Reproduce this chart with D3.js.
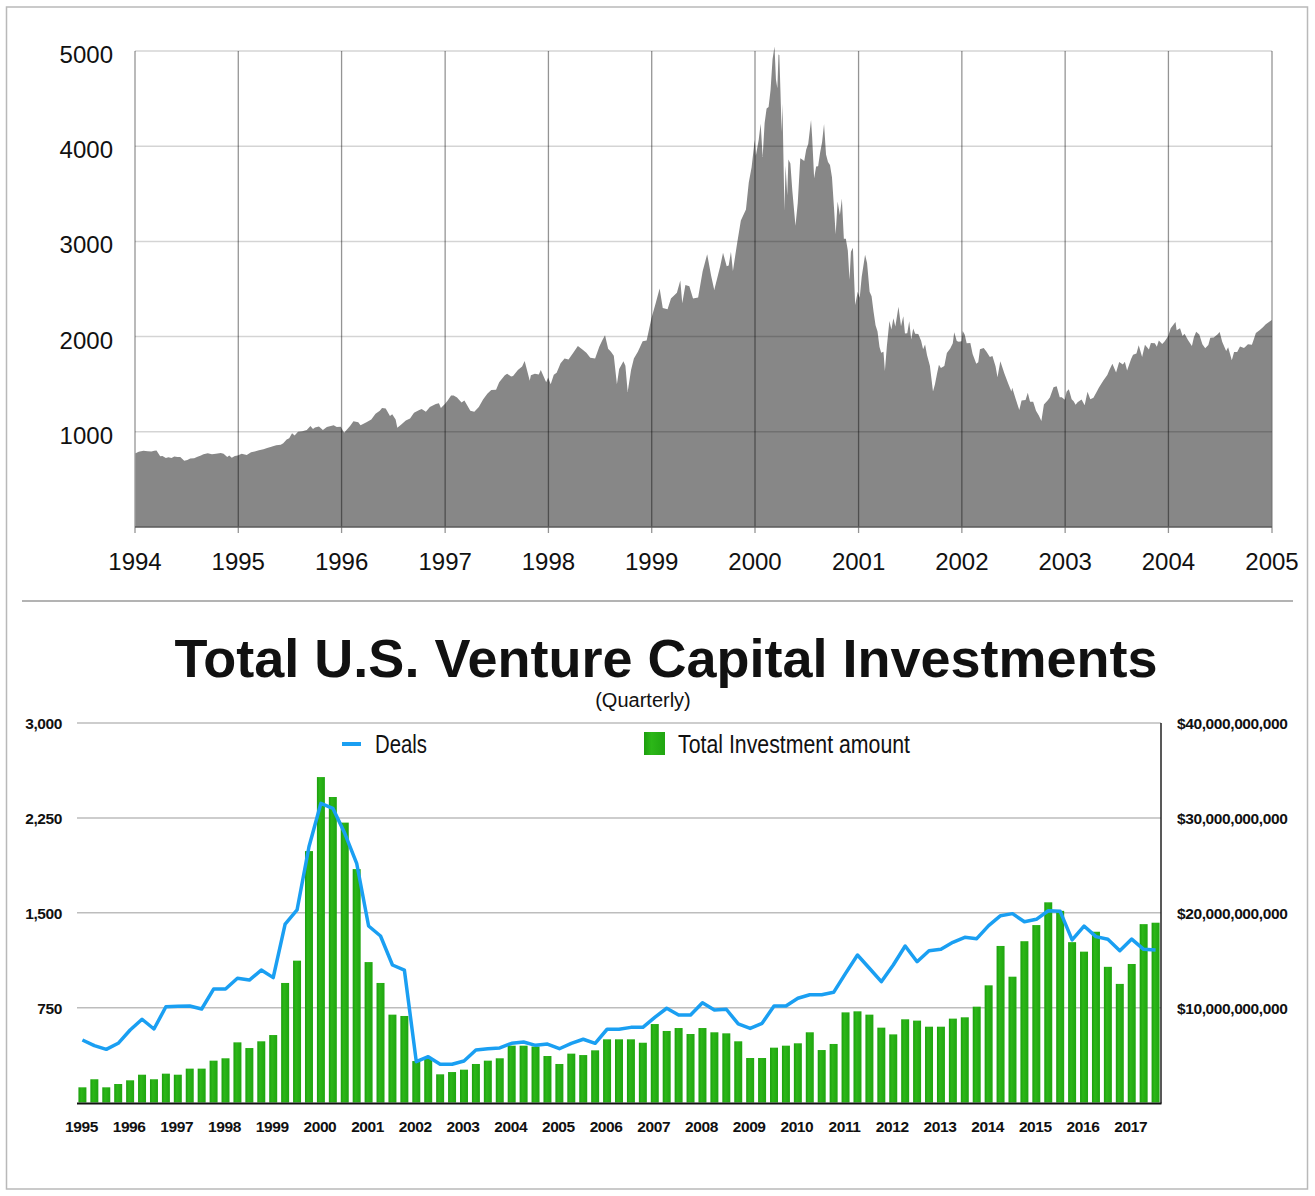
<!DOCTYPE html>
<html>
<head>
<meta charset="utf-8">
<script src="https://cdn.jsdelivr.net/npm/d3@7"></script>
<style>
  body { margin: 0; background: #fff; }
  svg { display: block; }
  text { font-family: "Liberation Sans", Arial, Helvetica, sans-serif; fill: #111; }
</style>
</head>
<body>
<div id="chart"></div>
<script>
// ---------------- data ----------------
// NASDAQ composite (date, close)
var nasdaqClose = [
  ["1994-01-03",776],["1994-01-14",790],["1994-01-31",800],["1994-02-15",795],["1994-02-28",792],
  ["1994-03-10",800],["1994-03-18",803],["1994-03-31",743],["1994-04-08",745],["1994-04-20",725],
  ["1994-04-29",733],["1994-05-10",726],["1994-05-20",740],["1994-05-31",735],["1994-06-10",735],
  ["1994-06-24",697],["1994-07-05",705],["1994-07-15",720],["1994-07-29",722],["1994-08-10",738],
  ["1994-08-22",750],["1994-08-31",765],["1994-09-15",775],["1994-09-30",764],["1994-10-14",770],
  ["1994-10-31",777],["1994-11-10",770],["1994-11-23",735],["1994-11-30",750],["1994-12-09",728],
  ["1994-12-20",745],["1994-12-30",752],
  ["1995-01-13",770],["1995-01-31",755],["1995-02-15",785],["1995-02-28",794],["1995-03-15",805],
  ["1995-03-31",817],["1995-04-13",830],["1995-04-28",844],["1995-05-15",860],["1995-05-31",865],
  ["1995-06-09",880],["1995-06-21",920],["1995-06-30",933],["1995-07-10",985],["1995-07-19",960],
  ["1995-07-31",1001],["1995-08-15",1005],["1995-08-31",1020],["1995-09-13",1060],["1995-09-22",1030],
  ["1995-09-29",1044],["1995-10-13",1055],["1995-10-27",1020],["1995-11-10",1050],["1995-11-24",1060],
  ["1995-12-04",1068],["1995-12-15",1050],["1995-12-29",1052],
  ["1996-01-10",990],["1996-01-31",1060],["1996-02-12",1110],["1996-02-29",1100],["1996-03-08",1070],
  ["1996-03-29",1101],["1996-04-15",1130],["1996-04-30",1190],["1996-05-15",1220],["1996-05-23",1250],
  ["1996-06-05",1245],["1996-06-20",1165],["1996-06-28",1185],["1996-07-10",1130],["1996-07-16",1042],
  ["1996-07-31",1080],["1996-08-15",1120],["1996-08-30",1141],["1996-09-13",1200],["1996-09-30",1227],
  ["1996-10-10",1240],["1996-10-25",1210],["1996-11-08",1260],["1996-11-29",1293],["1996-12-10",1300],
  ["1996-12-17",1250],["1996-12-31",1291],
  ["1997-01-10",1330],["1997-01-22",1380],["1997-01-31",1380],["1997-02-12",1360],["1997-02-28",1309],
  ["1997-03-10",1330],["1997-03-31",1222],["1997-04-14",1210],["1997-04-30",1261],["1997-05-15",1340],
  ["1997-05-30",1400],["1997-06-13",1440],["1997-06-30",1442],["1997-07-11",1520],["1997-07-31",1594],
  ["1997-08-08",1610],["1997-08-22",1580],["1997-08-29",1587],["1997-09-15",1650],["1997-09-30",1686],
  ["1997-10-09",1745],["1997-10-27",1535],["1997-10-31",1594],["1997-11-14",1610],["1997-11-28",1601],
  ["1997-12-05",1650],["1997-12-24",1520],["1997-12-31",1570],
  ["1998-01-09",1500],["1998-01-20",1600],["1998-01-30",1619],["1998-02-13",1720],["1998-02-27",1771],
  ["1998-03-13",1760],["1998-03-31",1836],["1998-04-15",1900],["1998-04-30",1868],["1998-05-15",1830],
  ["1998-05-29",1779],["1998-06-15",1770],["1998-06-30",1895],["1998-07-10",1960],["1998-07-20",2014],
  ["1998-07-31",1872],["1998-08-10",1840],["1998-08-20",1800],["1998-08-31",1499],["1998-09-08",1660],
  ["1998-09-23",1740],["1998-09-30",1695],["1998-10-08",1419],["1998-10-20",1650],["1998-10-30",1771],
  ["1998-11-13",1840],["1998-11-30",1950],["1998-12-14",1960],["1998-12-31",2193],
  ["1999-01-15",2350],["1999-01-29",2506],["1999-02-09",2300],["1999-02-26",2288],["1999-03-10",2400],
  ["1999-03-31",2461],["1999-04-12",2590],["1999-04-19",2350],["1999-04-30",2543],["1999-05-14",2530],
  ["1999-05-27",2400],["1999-06-14",2410],["1999-06-30",2686],["1999-07-16",2864],["1999-07-30",2638],
  ["1999-08-10",2490],["1999-08-31",2739],["1999-09-10",2880],["1999-09-23",2740],["1999-09-30",2746],
  ["1999-10-08",2890],["1999-10-15",2690],["1999-10-29",2966],["1999-11-12",3220],["1999-11-30",3336],
  ["1999-12-10",3620],["1999-12-20",3780],["1999-12-31",4069],
  ["2000-01-04",3900],["2000-01-14",4065],["2000-01-21",4235],["2000-01-28",3887],["2000-02-04",4244],
  ["2000-02-11",4395],["2000-02-18",4411],["2000-02-25",4590],["2000-03-03",4914],["2000-03-10",5048],
  ["2000-03-15",4700],["2000-03-20",4610],["2000-03-24",4963],["2000-03-27",4958],["2000-03-31",4573],
  ["2000-04-04",4148],["2000-04-07",4446],["2000-04-14",3321],["2000-04-18",3794],["2000-04-24",3482],
  ["2000-04-28",3861],["2000-05-05",3817],["2000-05-12",3529],["2000-05-23",3164],["2000-05-31",3401],
  ["2000-06-09",3874],["2000-06-16",3860],["2000-06-23",3845],["2000-06-30",3966],["2000-07-07",4023],
  ["2000-07-17",4274],["2000-07-21",4095],["2000-07-28",3663],["2000-08-04",3787],["2000-08-11",3789],
  ["2000-08-18",3930],["2000-08-25",4042],["2000-09-01",4234],["2000-09-08",3913],["2000-09-15",3835],
  ["2000-09-22",3803],["2000-09-29",3673],["2000-10-06",3361],["2000-10-12",3074],["2000-10-19",3418],
  ["2000-10-27",3278],["2000-11-03",3451],["2000-11-10",3028],["2000-11-17",3028],["2000-11-24",2904],
  ["2000-11-30",2598],["2000-12-05",2890],["2000-12-12",2932],["2000-12-20",2333],["2000-12-29",2471],
  ["2001-01-05",2407],["2001-01-12",2626],["2001-01-24",2859],["2001-01-31",2773],["2001-02-09",2470],
  ["2001-02-16",2425],["2001-02-23",2262],["2001-03-02",2118],["2001-03-09",2053],["2001-03-16",1890],
  ["2001-03-22",1830],["2001-03-30",1840],["2001-04-04",1638],["2001-04-11",1900],["2001-04-20",2163],
  ["2001-04-27",2075],["2001-05-04",2192],["2001-05-11",2107],["2001-05-22",2313],["2001-05-31",2110],
  ["2001-06-08",2215],["2001-06-14",2032],["2001-06-22",2034],["2001-06-29",2161],["2001-07-06",1970],
  ["2001-07-13",2085],["2001-07-20",2029],["2001-07-31",2027],["2001-08-10",1957],["2001-08-17",1868],
  ["2001-08-24",1916],["2001-08-31",1805],["2001-09-10",1695],["2001-09-21",1423],["2001-09-28",1499],
  ["2001-10-05",1606],["2001-10-12",1703],["2001-10-19",1671],["2001-10-31",1690],["2001-11-09",1828],
  ["2001-11-21",1875],["2001-11-30",1931],["2001-12-05",2046],["2001-12-14",1953],["2001-12-21",1945],
  ["2001-12-31",1950],
  ["2002-01-04",2059],["2002-01-11",2022],["2002-01-18",1930],["2002-01-31",1934],["2002-02-08",1818],
  ["2002-02-21",1716],["2002-02-28",1731],["2002-03-06",1866],["2002-03-19",1880],["2002-03-28",1845],
  ["2002-04-10",1785],["2002-04-19",1796],["2002-04-30",1688],["2002-05-07",1574],["2002-05-17",1741],
  ["2002-05-31",1616],["2002-06-14",1505],["2002-06-25",1423],["2002-06-28",1463],["2002-07-10",1346],
  ["2002-07-23",1229],["2002-07-31",1328],["2002-08-14",1335],["2002-08-22",1409],["2002-08-30",1315],
  ["2002-09-10",1316],["2002-09-20",1221],["2002-09-30",1172],["2002-10-09",1114],["2002-10-18",1288],
  ["2002-10-31",1330],["2002-11-08",1360],["2002-11-21",1468],["2002-12-02",1478],["2002-12-13",1362],
  ["2002-12-20",1363],["2002-12-31",1336],
  ["2003-01-06",1421],["2003-01-14",1446],["2003-01-24",1342],["2003-01-31",1321],["2003-02-07",1283],
  ["2003-02-14",1310],["2003-02-28",1338],["2003-03-11",1279],["2003-03-21",1422],["2003-03-31",1341],
  ["2003-04-11",1358],["2003-04-25",1434],["2003-04-30",1464],["2003-05-16",1538],["2003-05-30",1596],
  ["2003-06-06",1647],["2003-06-17",1716],["2003-06-30",1623],["2003-07-11",1734],["2003-07-24",1708],
  ["2003-07-31",1735],["2003-08-08",1644],["2003-08-22",1765],["2003-08-29",1810],["2003-09-10",1823],
  ["2003-09-18",1909],["2003-09-30",1787],["2003-10-10",1915],["2003-10-24",1865],["2003-10-31",1932],
  ["2003-11-14",1930],["2003-11-21",1893],["2003-11-28",1960],["2003-12-10",1922],["2003-12-19",1951],
  ["2003-12-31",2003],
  ["2004-01-09",2087],["2004-01-26",2154],["2004-01-30",2066],["2004-02-11",2089],["2004-02-20",2006],
  ["2004-02-27",2030],["2004-03-10",1965],["2004-03-24",1902],["2004-03-31",1994],["2004-04-08",2052],
  ["2004-04-19",2022],["2004-04-30",1920],["2004-05-10",1877],["2004-05-21",1912],["2004-05-28",1987],
  ["2004-06-09",1990],["2004-06-23",2025],["2004-06-30",2048],["2004-07-09",1946],["2004-07-23",1850],
  ["2004-07-30",1887],["2004-08-12",1752],["2004-08-20",1838],["2004-08-31",1838],["2004-09-10",1895],
  ["2004-09-24",1880],["2004-09-30",1897],["2004-10-08",1919],["2004-10-22",1915],["2004-10-29",1975],
  ["2004-11-05",2038],["2004-11-19",2070],["2004-11-30",2097],["2004-12-10",2129],["2004-12-20",2150],
  ["2004-12-31",2175]
];
var nasdaqYears = [1994,1995,1996,1997,1998,1999,2000,2001,2002,2003,2004,2005];
var nasdaqTicks = [1000,2000,3000,4000,5000];

// Venture capital, quarterly 1995 Q1 .. 2017 Q3
var vcYears = [1995,1996,1997,1998,1999,2000,2001,2002,2003,2004,2005,2006,
               2007,2008,2009,2010,2011,2012,2013,2014,2015,2016,2017];
// total investment amount, billions of dollars
var investmentB = [
  1.6, 2.45, 1.6, 1.95,   2.34, 2.93, 2.45, 3.04,   2.93, 3.57, 3.57, 4.41,
  4.66, 6.34, 5.74, 6.45, 7.11, 12.6, 14.95, 26.5,  34.3, 32.2, 29.5, 24.6,
  14.8, 12.6, 9.26, 9.12, 4.37, 4.62, 2.97, 3.21,   3.46, 4.06, 4.41, 4.66,
  5.99, 5.99, 5.9, 4.9,   4.06, 5.15, 5.0, 5.5,     6.66, 6.66, 6.66, 6.3,
  8.27, 7.54, 7.85, 7.22, 7.85, 7.4, 7.29, 6.45,    4.69, 4.69, 5.78, 5.99,
  6.24, 7.4, 5.53, 6.17,  9.5, 9.61, 9.26, 7.89,    7.18, 8.77, 8.63, 7.99,
  7.99, 8.84, 8.98, 10.1, 12.35, 16.5, 13.26, 17.0, 18.7, 21.1, 20.2, 16.9,
  15.9, 18.0, 14.3, 12.5, 14.6, 18.8, 18.95
];
// number of deals
var deals = [
  494, 449, 420, 468,    573, 658, 581, 757,    760, 763, 739, 897,
  897, 982, 968, 1047,   987, 1411, 1522, 2022, 2365, 2326, 2128, 1891,
  1395, 1316, 1087, 1047, 323, 362, 302, 302,   328, 415, 425, 431,
  468, 478, 452, 462,    425, 468, 500, 468,    579, 579, 594, 594,
  673, 745, 692, 692,    789, 731, 737, 621,    586, 626, 763, 763,
  824, 852, 852, 871,    1021, 1166, 1061, 955, 1087, 1237, 1113, 1200,
  1211, 1266, 1306, 1295, 1398, 1477, 1493, 1429, 1448, 1516, 1511, 1285,
  1395, 1311, 1290, 1200, 1292, 1211, 1205
];
var dealTicks = [750, 1500, 2250, 3000];
var dollarTicks = [10, 20, 30, 40];

// ---------------- page ----------------
var W = 1315, H = 1196;
var svg = d3.select("#chart").append("svg")
  .attr("width", W).attr("height", H);

// outer frame
svg.append("rect")
  .attr("x", 6.5).attr("y", 7).attr("width", 1301).attr("height", 1182)
  .attr("fill", "none").attr("stroke", "#b9b9b9").attr("stroke-width", 1.5);

// separator between panels
svg.append("line")
  .attr("x1", 22).attr("x2", 1293).attr("y1", 601).attr("y2", 601)
  .attr("stroke", "#9a9a9a").attr("stroke-width", 1.5);

//--------------------------top panel: NASDAQ area-----------------------------
var parseDate = d3.timeParse("%Y-%m-%d");
var nasdaq = nasdaqClose.map(function(d) { return {date: parseDate(d[0]), value: d[1]}; });

var xN = d3.scaleTime()
  .domain([new Date(1994, 0, 1), new Date(2005, 0, 1)])
  .range([135, 1272]);
var yN = d3.scaleLinear().domain([0, 5000]).range([527, 51]);

var topPanel = svg.append("g").attr("class", "nasdaq");

var area = d3.area()
  .x(function(d) { return xN(d.date); })
  .y0(yN(0))
  .y1(function(d) { return yN(d.value); });

topPanel.append("path")
  .datum(nasdaq)
  .attr("d", area)
  .attr("fill", "#878787");

// horizontal grid (drawn over the area)
topPanel.selectAll(".hgrid")
  .data(nasdaqTicks)
  .enter().append("line")
  .attr("class", "hgrid")
  .attr("x1", xN.range()[0]).attr("x2", xN.range()[1])
  .attr("y1", function(d) { return yN(d); })
  .attr("y2", function(d) { return yN(d); })
  .attr("stroke", "#000").attr("stroke-opacity", 0.17).attr("stroke-width", 1.5);

// vertical year lines
topPanel.selectAll(".vgrid")
  .data(nasdaqYears)
  .enter().append("line")
  .attr("class", "vgrid")
  .attr("x1", function(d) { return xN(new Date(d, 0, 1)); })
  .attr("x2", function(d) { return xN(new Date(d, 0, 1)); })
  .attr("y1", yN(5000)).attr("y2", yN(0) + 6)
  .attr("stroke", "#000").attr("stroke-opacity", 0.42).attr("stroke-width", 1.3);

// baseline
topPanel.append("line")
  .attr("x1", xN.range()[0]).attr("x2", xN.range()[1])
  .attr("y1", yN(0)).attr("y2", yN(0))
  .attr("stroke", "#5a5a5a").attr("stroke-width", 1.5);

topPanel.selectAll(".ylab")
  .data(nasdaqTicks)
  .enter().append("text")
  .attr("x", 113)
  .attr("y", function(d) { return yN(d) + 12; })
  .attr("text-anchor", "end")
  .style("font-size", "24px")
  .text(function(d) { return d; });

topPanel.selectAll(".xlab")
  .data(nasdaqYears)
  .enter().append("text")
  .attr("x", function(d) { return xN(new Date(d, 0, 1)); })
  .attr("y", 569.5)
  .attr("text-anchor", "middle")
  .style("font-size", "24px")
  .text(function(d) { return d; });

//--------------------------bottom panel: venture capital-----------------------------
var quarterKeys = [];
vcYears.forEach(function(y) {
  [1, 2, 3, 4].forEach(function(q) { quarterKeys.push(y + "Q" + q); });
});
quarterKeys = quarterKeys.slice(0, investmentB.length);

var vc = quarterKeys.map(function(k, i) {
  return {key: k, amount: investmentB[i], deals: deals[i]};
});

var xV = d3.scaleBand()
  .domain(quarterKeys)
  .range([77, 1161])
  .paddingInner(0.33)
  .paddingOuter(0.12);
var yDeals = d3.scaleLinear().domain([0, 3000]).range([1102.5, 723]);
var yMoney = d3.scaleLinear().domain([0, 40]).range([1102.5, 723]);

var bottomPanel = svg.append("g").attr("class", "vc");

// title
bottomPanel.append("text")
  .attr("x", 666).attr("y", 676.5)
  .attr("text-anchor", "middle")
  .style("font-size", "54px").style("font-weight", "bold")
  .text("Total U.S. Venture Capital Investments");
bottomPanel.append("text")
  .attr("x", 643).attr("y", 707)
  .attr("text-anchor", "middle")
  .style("font-size", "20px")
  .text("(Quarterly)");

// gridlines
bottomPanel.selectAll(".grid")
  .data(dealTicks)
  .enter().append("line")
  .attr("x1", 77).attr("x2", 1161)
  .attr("y1", function(d) { return yDeals(d); })
  .attr("y2", function(d) { return yDeals(d); })
  .attr("stroke", "#bdbdbd").attr("stroke-width", 1.5);

// bars
var barGrad = svg.append("defs").append("linearGradient")
  .attr("id", "barGrad").attr("x1", "0").attr("x2", "1").attr("y1", "0").attr("y2", "0");
barGrad.append("stop").attr("offset", "0%").attr("stop-color", "#1c9e0e");
barGrad.append("stop").attr("offset", "35%").attr("stop-color", "#2cb718");
barGrad.append("stop").attr("offset", "100%").attr("stop-color", "#20a511");

bottomPanel.selectAll(".bar")
  .data(vc)
  .enter().append("rect")
  .attr("class", "bar")
  .attr("x", function(d) { return xV(d.key); })
  .attr("width", xV.bandwidth())
  .attr("y", function(d) { return yMoney(d.amount); })
  .attr("height", function(d) { return yMoney(0) - yMoney(d.amount); })
  .attr("fill", "url(#barGrad)");

// deals line
var dealsLine = d3.line()
  .x(function(d) { return xV(d.key) + xV.bandwidth() / 2; })
  .y(function(d) { return yDeals(d.deals); });

bottomPanel.append("path")
  .datum(vc)
  .attr("d", dealsLine)
  .attr("fill", "none")
  .attr("stroke", "#1a9ff2")
  .attr("stroke-width", 3.5)
  .attr("stroke-linejoin", "round");

// axes lines
bottomPanel.append("line")
  .attr("x1", 77).attr("x2", 1161.5).attr("y1", 1103.5).attr("y2", 1103.5)
  .attr("stroke", "#111").attr("stroke-width", 2);
bottomPanel.append("line")
  .attr("x1", 1161).attr("x2", 1161).attr("y1", 723).attr("y2", 1103.5)
  .attr("stroke", "#222").attr("stroke-width", 1.5);

// left axis labels
bottomPanel.selectAll(".lab-left")
  .data(dealTicks)
  .enter().append("text")
  .attr("x", 62)
  .attr("y", function(d) { return yDeals(d) + 6; })
  .attr("text-anchor", "end")
  .style("font-size", "15.5px").style("font-weight", "bold")
  .style("letter-spacing", "-0.4px")
  .text(function(d) { return d3.format(",")(d); });

// right axis labels
bottomPanel.selectAll(".lab-right")
  .data(dollarTicks)
  .enter().append("text")
  .attr("x", 1177)
  .attr("y", function(d) { return yMoney(d) + 6; })
  .attr("text-anchor", "start")
  .style("font-size", "15.5px").style("font-weight", "bold")
  .style("letter-spacing", "-0.4px")
  .text(function(d) { return "$" + d3.format(",")(d * 1e9); });

// year labels under Q1 bars
bottomPanel.selectAll(".lab-year")
  .data(vcYears)
  .enter().append("text")
  .attr("x", function(d) { return xV(d + "Q1") + xV.bandwidth() / 2 - 1; })
  .attr("y", 1132)
  .attr("text-anchor", "middle")
  .style("font-size", "15.5px").style("font-weight", "bold")
  .style("letter-spacing", "-0.4px")
  .text(function(d) { return d; });

// legend
var legend = bottomPanel.append("g").attr("class", "legend");
legend.append("line")
  .attr("x1", 342).attr("x2", 361).attr("y1", 744).attr("y2", 744)
  .attr("stroke", "#1a9ff2").attr("stroke-width", 4);
legend.append("text")
  .attr("x", 375).attr("y", 753)
  .attr("textLength", 52).attr("lengthAdjust", "spacingAndGlyphs")
  .style("font-size", "25px")
  .text("Deals");
legend.append("rect")
  .attr("x", 644).attr("y", 732).attr("width", 21).attr("height", 23)
  .attr("fill", "url(#barGrad)");
legend.append("text")
  .attr("x", 678).attr("y", 753)
  .attr("textLength", 232).attr("lengthAdjust", "spacingAndGlyphs")
  .style("font-size", "25px")
  .text("Total Investment amount");
</script>
</body>
</html>
